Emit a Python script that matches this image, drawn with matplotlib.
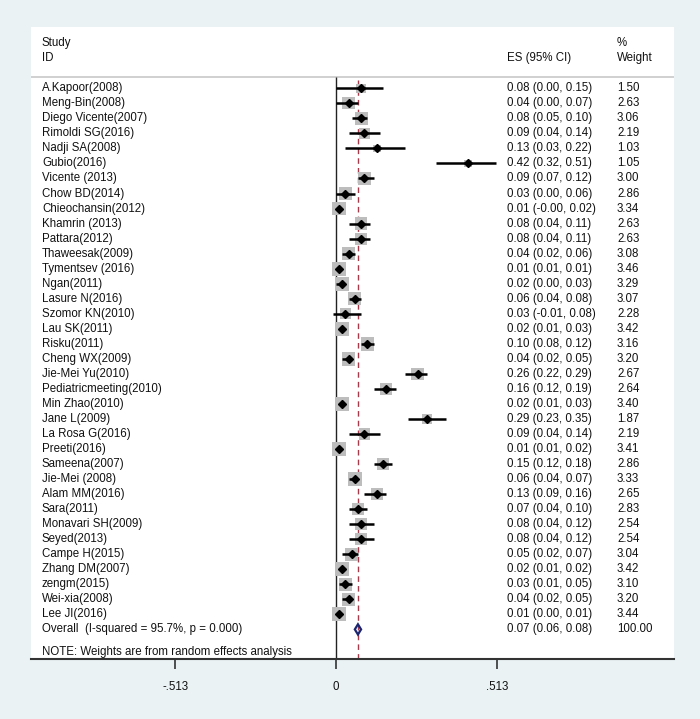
import matplotlib
matplotlib.use("Agg")
import matplotlib.pyplot as plt
from matplotlib.patches import Polygon

plt.rcParams['font.family'] = ['Liberation Sans', 'DejaVu Sans']

studies = ["A.Kapoor(2008)", "Meng-Bin(2008)", "Diego Vicente(2007)", "Rimoldi SG(2016)",
           "Nadji SA(2008)", "Gubio(2016)", "Vicente (2013)", "Chow BD(2014)",
           "Chieochansin(2012)", "Khamrin (2013)", "Pattara(2012)", "Thaweesak(2009)",
           "Tymentsev (2016)", "Ngan(2011)", "Lasure N(2016)", "Szomor KN(2010)",
           "Lau SK(2011)", "Risku(2011)", "Cheng WX(2009)", "Jie-Mei Yu(2010)",
           "Pediatricmeeting(2010)", "Min Zhao(2010)", "Jane L(2009)", "La Rosa G(2016)",
           "Preeti(2016)", "Sameena(2007)", "Jie-Mei (2008)", "Alam MM(2016)",
           "Sara(2011)", "Monavari SH(2009)", "Seyed(2013)", "Campe H(2015)",
           "Zhang DM(2007)", "zengm(2015)", "Wei-xia(2008)", "Lee JI(2016)"]
es = [0.08, 0.04, 0.08, 0.09, 0.13, 0.42, 0.09, 0.03, 0.01, 0.08, 0.08, 0.04,
      0.01, 0.02, 0.06, 0.03, 0.02, 0.10, 0.04, 0.26, 0.16, 0.02, 0.29, 0.09,
      0.01, 0.15, 0.06, 0.13, 0.07, 0.08, 0.08, 0.05, 0.02, 0.03, 0.04, 0.01]
ci_low = [0.00, 0.00, 0.05, 0.04, 0.03, 0.32, 0.07, 0.00, -0.00, 0.04, 0.04, 0.02,
          0.01, 0.00, 0.04, -0.01, 0.01, 0.08, 0.02, 0.22, 0.12, 0.01, 0.23, 0.04,
          0.01, 0.12, 0.04, 0.09, 0.04, 0.04, 0.04, 0.02, 0.01, 0.01, 0.02, 0.00]
ci_high = [0.15, 0.07, 0.10, 0.14, 0.22, 0.51, 0.12, 0.06, 0.02, 0.11, 0.11, 0.06,
           0.01, 0.03, 0.08, 0.08, 0.03, 0.12, 0.05, 0.29, 0.19, 0.03, 0.35, 0.14,
           0.02, 0.18, 0.07, 0.16, 0.10, 0.12, 0.12, 0.07, 0.02, 0.05, 0.05, 0.01]
weights = [1.50, 2.63, 3.06, 2.19, 1.03, 1.05, 3.00, 2.86, 3.34, 2.63, 2.63, 3.08,
           3.46, 3.29, 3.07, 2.28, 3.42, 3.16, 3.20, 2.67, 2.64, 3.40, 1.87, 2.19,
           3.41, 2.86, 3.33, 2.65, 2.83, 2.54, 2.54, 3.04, 3.42, 3.10, 3.20, 3.44]
overall_label = "Overall  (I-squared = 95.7%, p = 0.000)"
overall_es, overall_low, overall_high, overall_weight = 0.07, 0.06, 0.08, 100.00
note = "NOTE: Weights are from random effects analysis"
xticks = [-0.513, 0, 0.513]
xtick_labels = ["-.513", "0", ".513"]

BG = '#EAF2F3'
FS = 8.3
TXT = '#111111'

fig = plt.figure(figsize=(7.0, 7.19), dpi=100, facecolor=BG)
ax = fig.add_axes([31/700, 60/719, 643/700, 632/719])
ax.set_facecolor('white')

px_per_unit = 313.6
ax.set_xlim((31-336)/px_per_unit, (674-336)/px_per_unit)
ybot, ytop = 37.97, -4.08
ax.set_ylim(ybot, ytop)

x_study = (42-336)/px_per_unit
x_es = (507-336)/px_per_unit
x_w = (617-336)/px_per_unit

n = len(studies)
rows = list(range(n))

# header
ax.text(x_study, -3.01, "Study", ha='left', va='center', fontsize=FS, color=TXT)
ax.text(x_study, -2.02, "ID", ha='left', va='center', fontsize=FS, color=TXT)
ax.text(x_es, -2.02, "ES (95% CI)", ha='left', va='center', fontsize=FS, color=TXT)
ax.text(x_w, -3.01, "%", ha='left', va='center', fontsize=FS, color=TXT)
ax.text(x_w, -2.02, "Weight", ha='left', va='center', fontsize=FS, color=TXT)
ax.axhline(-0.75, color='#c8c8c8', lw=1.2, zorder=1)

# reference lines
ax.vlines(0, -0.75, ybot, color='#222222', lw=1.0, zorder=2)
ax.vlines(overall_es, -0.55, ybot, color='#a83a4a', lw=1.0,
          linestyles=(0, (4, 3)), zorder=2)

# study rows
ax.scatter(es, rows, s=[w*29.4 for w in weights], marker='s', color='#bdbdbd',
           linewidths=0, zorder=3)
ax.hlines(rows, ci_low, ci_high, color='black', lw=1.8, zorder=4)
ax.plot(es, rows, linestyle='none', marker='D', markersize=3.7, color='black', zorder=5)

for i in rows:
    ax.text(x_study, i, studies[i], ha='left', va='center', fontsize=FS, color=TXT)
    ax.text(x_es, i, f"{es[i]:.2f} ({ci_low[i]:.2f}, {ci_high[i]:.2f})",
            ha='left', va='center', fontsize=FS, color=TXT)
    ax.text(x_w, i, f"{weights[i]:.2f}", ha='left', va='center', fontsize=FS, color=TXT)

# overall
yo = n
diamond = Polygon([(overall_low, yo), (overall_es, yo-0.34), (overall_high, yo),
                   (overall_es, yo+0.34)], closed=True, fill=False,
                  edgecolor='#1c2570', lw=1.6, zorder=5)
ax.add_patch(diamond)
ax.text(x_study, yo, overall_label, ha='left', va='center', fontsize=FS, color=TXT)
ax.text(x_es, yo, f"{overall_es:.2f} ({overall_low:.2f}, {overall_high:.2f})",
        ha='left', va='center', fontsize=FS, color=TXT)
ax.text(x_w, yo, f"{overall_weight:.2f}", ha='left', va='center', fontsize=FS, color=TXT)
ax.text(x_study, 37.49, note, ha='left', va='center', fontsize=FS, color=TXT)

# axes styling
for s in ['top', 'left', 'right']:
    ax.spines[s].set_visible(False)
ax.spines['bottom'].set_color('#333333')
ax.spines['bottom'].set_linewidth(1.5)
ax.set_yticks([])
ax.set_xticks(xticks)
ax.set_xticklabels(xtick_labels)
ax.tick_params(axis='x', direction='out', length=7, width=1.2, color='#333333',
               pad=9, labelsize=FS, labelcolor=TXT)

fig.savefig("out.png", dpi=100, facecolor=BG)
